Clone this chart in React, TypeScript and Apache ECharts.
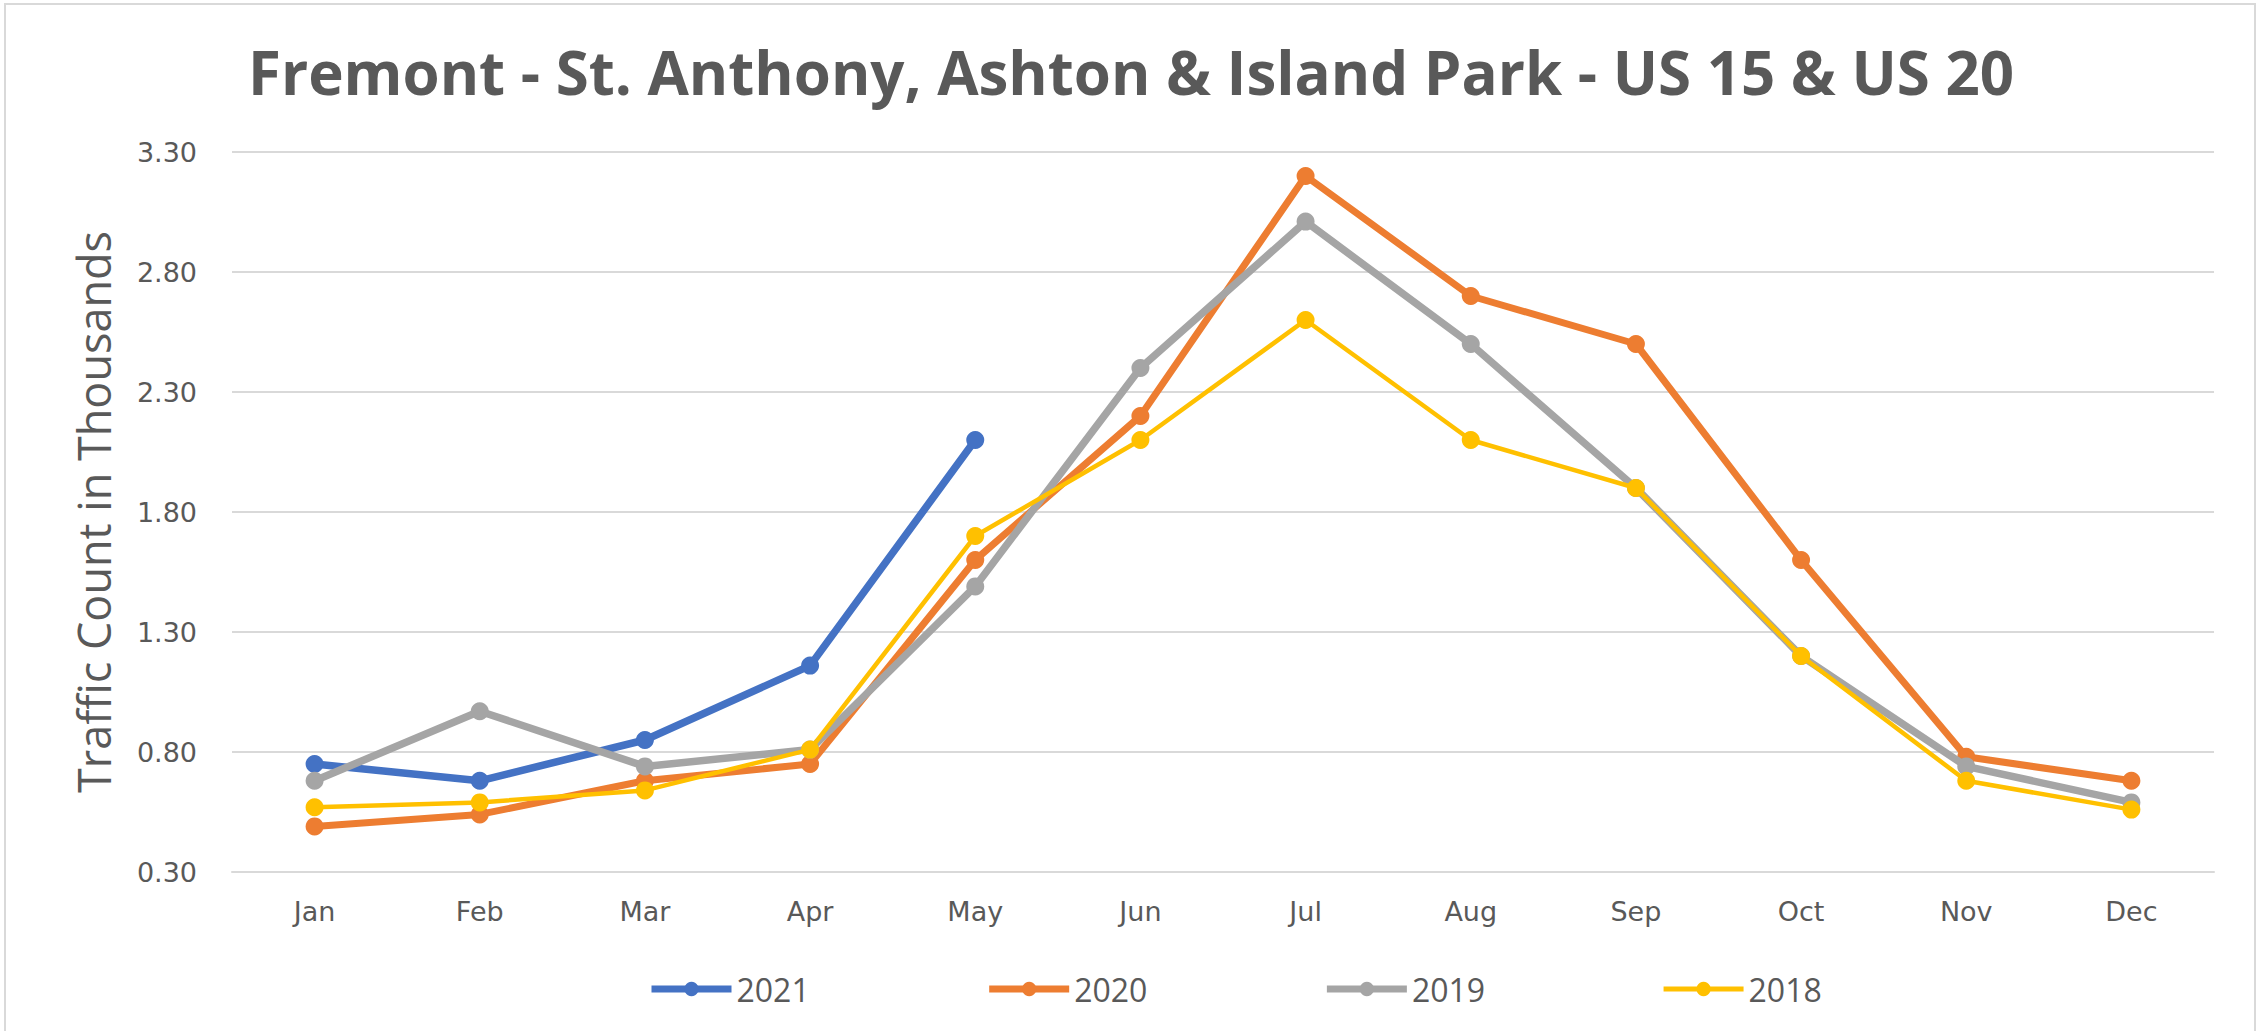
import React, { useEffect, useRef } from "react";
import * as echarts from "echarts";

const months = ["Jan", "Feb", "Mar", "Apr", "May", "Jun", "Jul", "Aug", "Sep", "Oct", "Nov", "Dec"];
const s2021 = [0.75, 0.68, 0.85, 1.16, 2.10, null, null, null, null, null, null, null];
const s2020 = [0.49, 0.54, 0.68, 0.75, 1.60, 2.20, 3.20, 2.70, 2.50, 1.60, 0.78, 0.68];
const s2019 = [0.68, 0.97, 0.74, 0.81, 1.49, 2.40, 3.01, 2.50, 1.90, 1.20, 0.74, 0.59];
const s2018 = [0.57, 0.59, 0.64, 0.81, 1.70, 2.10, 2.60, 2.10, 1.90, 1.20, 0.68, 0.56];
const seriesNames = ["2021", "2020", "2019", "2018"];
const titleText = "Fremont - St. Anthony, Ashton & Island Park - US 15 & US 20";
const yAxisTitle = "Traffic Count in Thousands";

const SANS = "'Open Sans', 'Noto Sans', sans-serif";
const GRAYTXT = "#595959";

export default function App() {
  const ref = useRef<HTMLDivElement>(null);
  useEffect(() => {
    document.body.style.margin = "0";
    if (!ref.current) return;
    const chart = echarts.init(ref.current, undefined, { renderer: "svg" });
    const colors = ["#4472C4", "#ED7D31", "#A5A5A5", "#FFC000"];
    const widths = [7.5, 7, 7.5, 4.5];
    const datas = [s2021, s2020, s2019, s2018];
    chart.setOption({
      animation: false,
      backgroundColor: "#ffffff",
      title: {
        text: titleText,
        left: "center",
        top: 37,
        textStyle: { fontFamily: SANS, fontSize: 60, fontWeight: "bold", color: GRAYTXT },
      },
      graphic: [
        {
          type: "rect",
          shape: { x: 5, y: 4, width: 2250, height: 1040 },
          style: { fill: "none", stroke: "#D9D9D9", lineWidth: 2 },
          silent: true,
        },
      ],
      legend: {
        data: seriesNames.map((n, i) => ({
          name: n,
          lineStyle: { width: i === 3 ? 5 : 7, color: colors[i] },
          itemStyle: { color: colors[i] },
        })),
        left: 643,
        top: 968,
        itemWidth: 80,
        itemHeight: 18,
        itemGap: 176,
        textStyle: { fontFamily: SANS, fontSize: 32, color: GRAYTXT },
      },
      grid: { left: 232, right: 48, top: 152, bottom: 159 },
      xAxis: {
        type: "category",
        data: months,
        boundaryGap: true,
        axisLine: { show: true, lineStyle: { color: "#D9D9D9", width: 2 } },
        axisTick: { show: false },
        axisLabel: { color: GRAYTXT, fontFamily: "'DejaVu Sans', Verdana, sans-serif", fontSize: 27, margin: 26 },
      },
      yAxis: {
        type: "value",
        min: 0.3,
        max: 3.3,
        interval: 0.5,
        name: yAxisTitle,
        nameLocation: "middle",
        nameRotate: 90,
        nameGap: 116,
        nameTextStyle: { fontFamily: SANS, fontSize: 45, color: GRAYTXT },
        axisLine: { show: false },
        axisTick: { show: false },
        splitLine: { show: true, lineStyle: { color: "#D9D9D9", width: 2 } },
        axisLabel: {
          color: GRAYTXT,
          fontFamily: "'DejaVu Sans', Verdana, sans-serif",
          fontSize: 27,
          margin: 35,
          formatter: (v: number) => v.toFixed(2),
        },
      },
      series: seriesNames.map((n, i) => ({
        name: n,
        type: "line",
        data: datas[i],
        symbol: "circle",
        symbolSize: 18,
        showSymbol: true,
        connectNulls: false,
        lineStyle: { color: colors[i], width: widths[i] },
        itemStyle: { color: colors[i] },
        z: 2 + i,
      })),
    });
    return () => chart.dispose();
  }, []);
  return <div ref={ref} style={{ width: 2262, height: 1031 }} />;
}
